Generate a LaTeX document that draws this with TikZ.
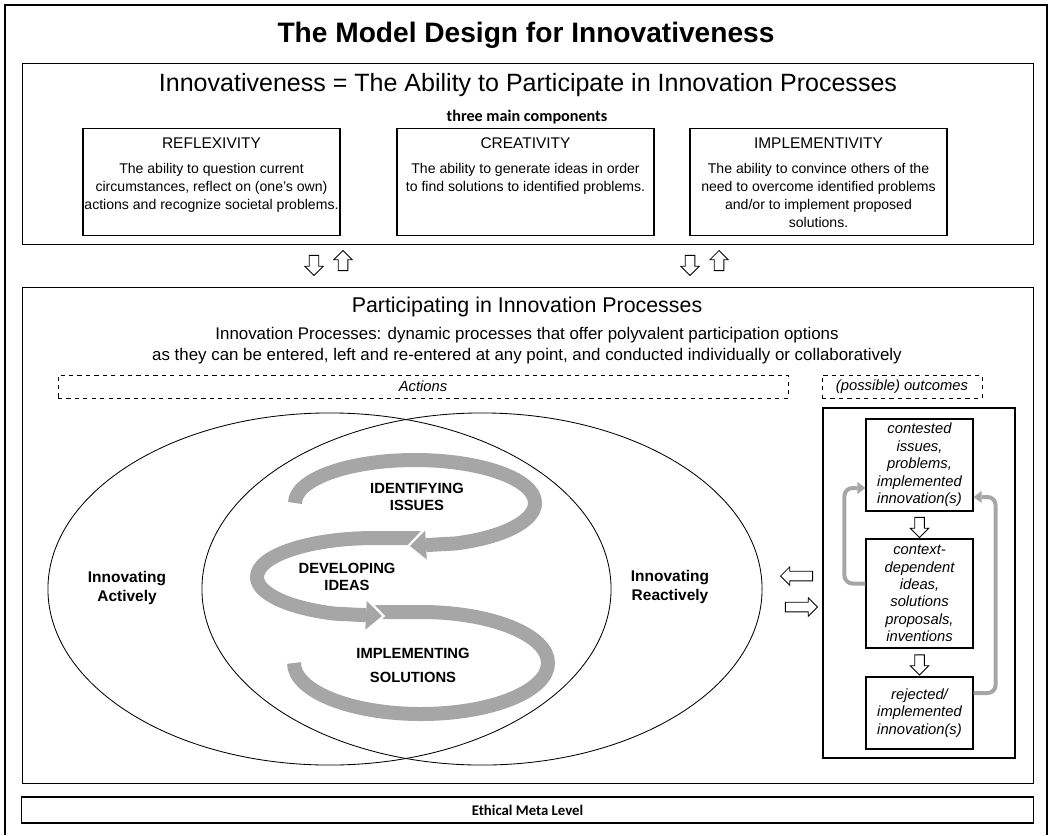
\documentclass[tikz,border=0pt]{standalone}
\usepackage{fontspec}
\setmainfont{Liberation Sans}
\newfontfamily\calfont{Carlito}
\usepackage{tikz}
\usetikzlibrary{shapes.geometric, shapes.arrows, arrows.meta, positioning, calc}

\definecolor{bandgray}{RGB}{166,166,166}

\tikzstyle{panel} = [rectangle, draw, line width=0.8pt, inner sep=0pt]
\tikzstyle{compbox} = [rectangle, draw, line width=0.8pt, anchor=north,
  minimum width=6.425cm, inner xsep=0pt, inner ysep=0.24cm]
\tikzstyle{tagbox} = [rectangle, draw, dashed, minimum height=0.575cm, inner sep=0pt,
  font=\itshape\fontsize{10.5}{12}\selectfont]
\tikzstyle{outbox} = [rectangle, draw, line width=0.8pt, minimum width=2.675cm,
  text width=2.6cm, align=center, inner sep=0pt, font=\itshape\fontsize{10.5}{12.4}\selectfont]
\tikzstyle{modelabel} = [align=center, font=\bfseries\fontsize{11}{13.5}\selectfont]
\tikzstyle{phaselabel} = [align=center, font=\bfseries\fontsize{10.5}{12}\selectfont]
\tikzstyle{band} = [draw=bandgray, line width=0.35cm]
\tikzstyle{bandtip} = [band, -{Triangle[length=0.4cm, width=0.72cm, line width=0pt]}]
\tikzstyle{halo} = [draw=white, line width=0.45cm, shorten >=-0.08cm,
  -{Triangle[length=0.5cm, width=0.95cm, line width=0pt]}]
\tikzstyle{loopline} = [draw=bandgray, line width=0.1cm, rounded corners=0.2cm,
  -{Triangle[length=0.2cm, width=0.3cm, line width=0pt]}]
\tikzstyle{hollowarrow} = [single arrow, draw, line width=0.6pt, fill=white, inner sep=0.11cm,
  single arrow head extend=0.11cm, minimum height=0.5cm]

% one of the three components: heading on top, description below
\newcommand{\component}[2]{\parbox[t][2.195cm][t]{6.35cm}{\centering
  {\fontsize{11}{13}\selectfont #1}\par\vspace{0.16cm}
  \fontsize{10}{12.8}\selectfont #2}}

% band of the process loop, with a white rim under it
\newcommand{\loopband}[1]{\draw[halo] #1; \draw[bandtip] #1;}

\begin{document}
\begin{tikzpicture}[x=0.025cm, y=-0.025cm]
\useasboundingbox (0,0) rectangle (1051,835);

% outer frame, open at the bottom
\draw[line width=0.8pt] (5,835) -- (5,5) -- (1047,5) -- (1047,835);

\node[font=\bfseries\fontsize{20}{24}\selectfont] (title) at (526,35)
  {The Model Design for Innovativeness};

%
% Ability and its components
%

\node[panel, anchor=north west, minimum width=25.275cm, minimum height=4.525cm] (ability) at (22,63) {};
\node[font=\fontsize{17.8}{21}\selectfont] (abilityhead) at (528,85)
  {Innovativeness = The Ability to Participate in Innovation Processes};
\node[font=\calfont\bfseries\fontsize{11.5}{13}\selectfont] (three) at (527,117) {three main components};

\node[compbox] (refl) at (211.5,128) {\component{REFLEXIVITY}{The ability to question current\\
  circumstances, reflect on (one’s own)\\actions and recognize societal problems.}};
\node[compbox] (crea) at (525.5,128) {\component{CREATIVITY}{The ability to generate ideas in order\\
  to find solutions to identified problems.}};
\node[compbox] (impl) at (818.5,128) {\component{IMPLEMENTIVITY}{The ability to convince others of the\\
  need to overcome identified problems\\and/or to implement proposed\\solutions.}};

\node[hollowarrow, shape border rotate=270] (down1) at (314,263) {};
\node[hollowarrow, shape border rotate=90] (up1) at (343,263) {};
\node[hollowarrow, shape border rotate=270] (down2) at (690,263) {};
\node[hollowarrow, shape border rotate=90] (up2) at (719,263) {};

%
% Participating
%

\node[panel, anchor=north west, minimum width=25.275cm, minimum height=12.4cm] (process) at (22,287) {};
\node[font=\fontsize{15.2}{18}\selectfont] (processhead) at (527,307) {Participating in Innovation Processes};
\node[align=center, font=\fontsize{12}{15}\selectfont] (processdef) at (527,346)
  {Innovation Processes: dynamic processes that offer polyvalent participation options\\
   as they can be entered, left and re-entered at any point, and conducted individually or collaboratively};

\node[tagbox, minimum width=18.25cm] (actions) at (423,386.5) {Actions};
\node[tagbox, minimum width=4cm] (outcomes) at (902,386.5) {(possible) outcomes};

% the two modes of acting
\node[draw, ellipse, line width=0.6pt, inner sep=0pt, minimum width=14.075cm, minimum height=8.8cm] (active) at (329.5,589) {};
\node[draw, ellipse, line width=0.6pt, inner sep=0pt, minimum width=14cm, minimum height=8.8cm] (reactive) at (482,589) {};
\node[modelabel] (activelabel) at (127,588) {Innovating\\Actively};
\node[modelabel] (reactivelabel) at (670,587) {Innovating\\Reactively};

% the loop: issues, ideas, solutions
\draw[band] (372,612) -- (421,612) arc[start angle=270, end angle=540, x radius=127, y radius=51];
\loopband{(425,538) -- (375,538) arc[start angle=270, end angle=110, x radius=118, y radius=39] -- (382,616)}
\loopband{(295,503) arc[start angle=180, end angle=430, x radius=120, y radius=43] -- (410,546)}

\node[phaselabel] (identify) at (417,497) {IDENTIFYING\\ISSUES};
\node[phaselabel] (develop) at (347,577) {DEVELOPING\\IDEAS};
\node[phaselabel, font=\bfseries\fontsize{10.5}{17}\selectfont] (implement) at (413,665) {IMPLEMENTING\\SOLUTIONS};

\node[hollowarrow, shape border rotate=180, minimum height=0.8cm] (back) at (799,576) {};
\node[hollowarrow, minimum height=0.8cm] (forth) at (799,607) {};

% outcomes
\node[panel, minimum width=4.8cm, minimum height=8.75cm] (outframe) at (919,583) {};
\node[outbox, minimum height=2.3cm] (o1) at (919.5,465) {contested\\issues,\\problems,\\implemented\\innovation(s)};
\node[outbox, minimum height=2.725cm] (o2) at (919.5,593.5) {context-\\dependent\\ideas,\\solutions\\proposals,\\inventions};
\node[outbox, minimum height=1.8cm] (o3) at (919.5,713) {rejected/\\implemented\\innovation(s)};

\node[hollowarrow, shape border rotate=270] (od1) at ($(o1.south)!0.5!(o2.north)$) {};
\node[hollowarrow, shape border rotate=270] (od2) at ($(o2.south)!0.5!(o3.north)$) {};

\draw[loopline] ($(o2.west)+(0,-10)$) -- ++(-21,0) |- ($(o1.west)+(0,23)$);
\draw[loopline] ($(o3.east)+(0,-20)$) -- ++(22,0) |- ($(o1.east)+(0,32)$);

%
% Ethics
%

\node[panel, minimum width=25.275cm, minimum height=0.65cm, font=\calfont\bfseries\fontsize{10.5}{12}\selectfont] (ethics) at (527.5,810) {Ethical Meta Level};

\end{tikzpicture}
\end{document}
